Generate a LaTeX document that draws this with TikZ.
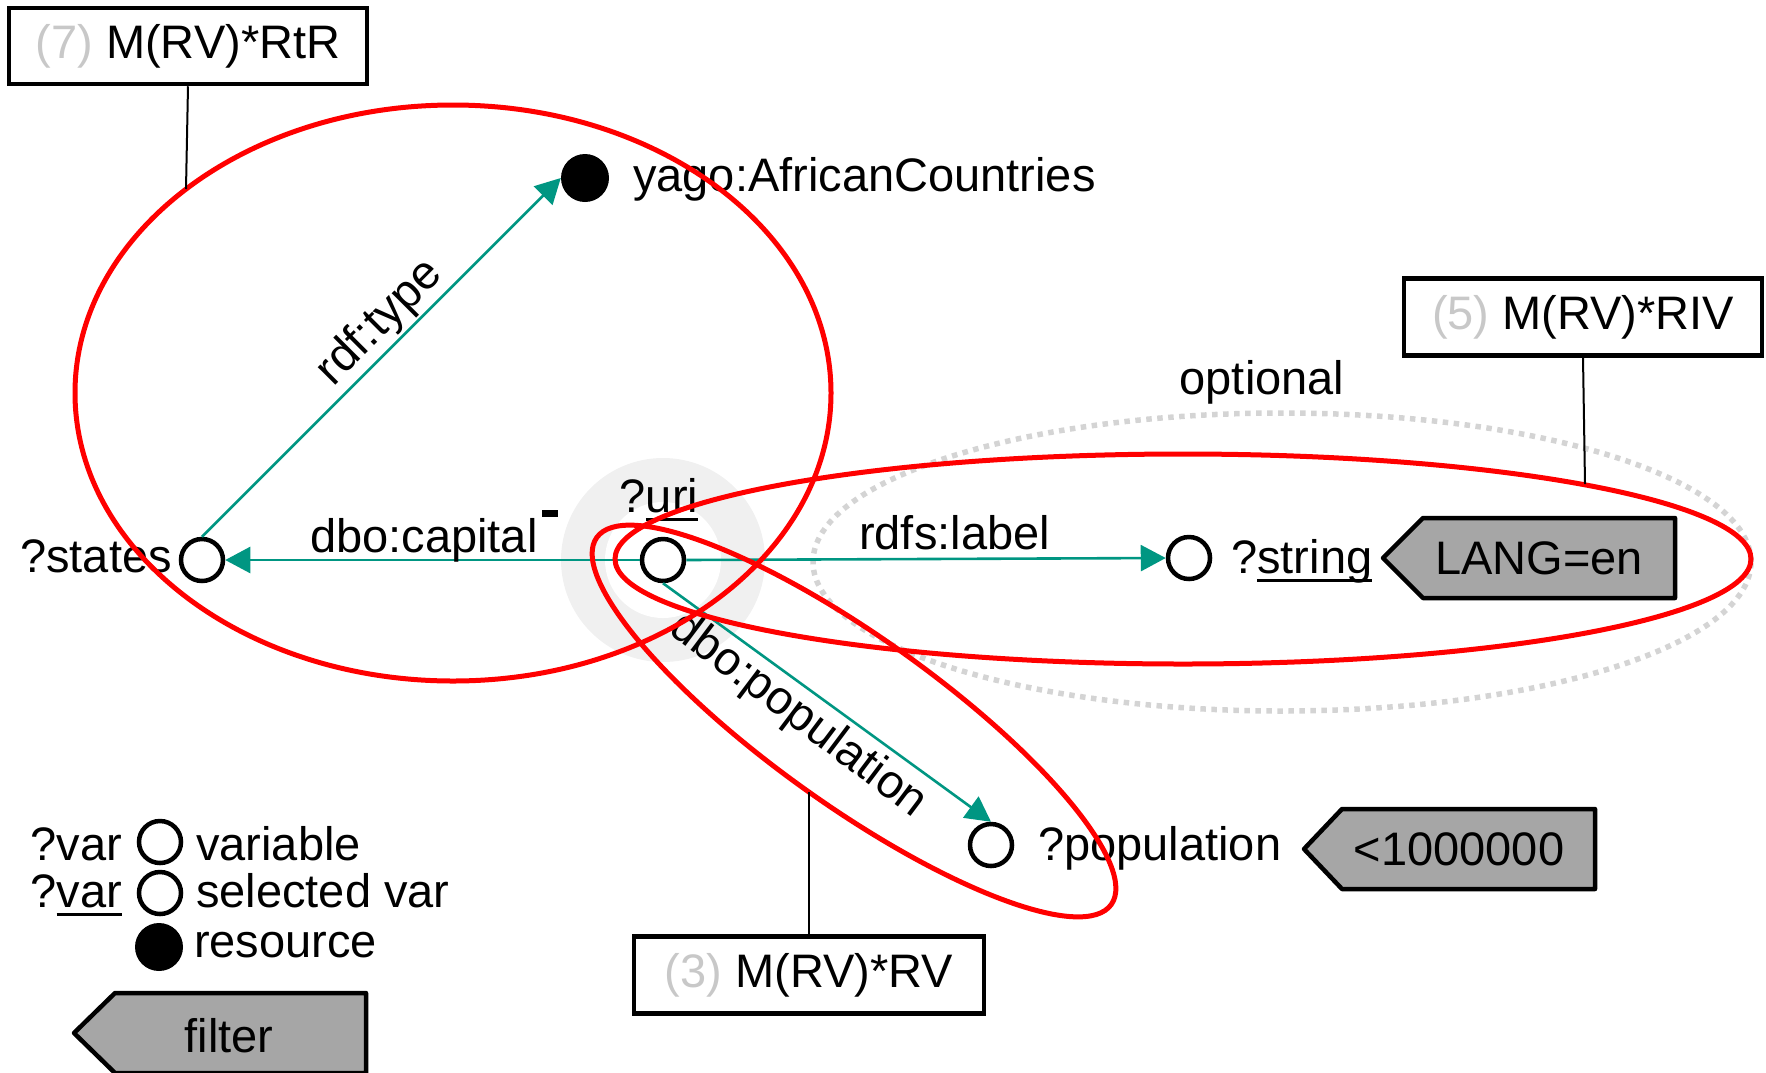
\documentclass[tikz,border=0pt]{standalone}
\usepackage{fontspec}
\setmainfont{Liberation Sans}
\usetikzlibrary{arrows.meta,backgrounds}
\definecolor{edgeteal}{HTML}{009682}
\definecolor{grpred}{HTML}{FF0000}
\definecolor{optgray}{HTML}{D4D4D4}
\definecolor{halogray}{HTML}{F0F0F0}
\definecolor{filtgray}{HTML}{A6A6A6}
\definecolor{numgray}{HTML}{C8C8C8}
% underlined word with a thick rule below the baseline
\newcommand\ulword[1]{\setbox0=\hbox{#1}\rlap{\copy0}\rule[-9pt]{\wd0}{3.5pt}}
\begin{document}
\begin{tikzpicture}[x=1pt,y=-1pt,
  txt/.style={font=\fontsize{47pt}{56pt}\selectfont, inner sep=0pt},
  varnode/.style={circle, draw=black, line width=4.5pt, minimum size=42pt, inner sep=0pt},
  resnode/.style={circle, fill=black, minimum size=48pt, inner sep=0pt},
  rel/.style={draw=edgeteal, line width=2.6pt, -{Triangle[length=25pt,width=26pt]}},
  group/.style={draw=grpred, line width=5pt},
  optional/.style={draw=optgray, line width=5.5pt, dash pattern=on 5.5pt off 5.5pt},
  tagbox/.style={draw=black, line width=4.5pt, fill=white, inner sep=0pt,
    font=\fontsize{47pt}{56pt}\selectfont},
  filt/.style={draw=black, line width=4.5pt, fill=filtgray, line join=round},
  callout/.style={draw=black, line width=2pt}
]
\useasboundingbox (0,0) rectangle (1766,1072);

% graph nodes
\node[varnode] (states) at (202,560) {};
\node[resnode] (yago) at (585,178) {};
\node[varnode] (uri) at (663,560) {};
\node[varnode] (string) at (1189,558) {};
\node[varnode] (pop) at (991,845) {};

% selection halo and optional group
\begin{scope}[on background layer]
  \fill[halogray] (uri) circle[radius=102pt];
  \fill[white] (uri) circle[radius=58pt];
  \draw[optional] (1282,562) ellipse [x radius=469pt, y radius=149pt];
\end{scope}

% node labels
\node[txt, anchor=base east] (statesL) at (172,572) {?states};
\node[txt, anchor=base west] (yagoL) at (633,191) {yago:AfricanCountries};
\node[txt, anchor=base] (uriL) at (659,512) {?\ulword{uri}};
\node[txt, anchor=base west] (stringL) at (1231,573) {?\ulword{string}};
\node[txt, anchor=base west] (popL) at (1038,860) {?population};
\node[txt, anchor=base] (optL) at (1262,394) {optional};

% relations
\draw[rel] (uri.west) -- (states.east);
\draw[rel] (states.north) -- (yago.west);
\draw[rel] (uri.east) -- (string.west);
\draw[rel] (uri.south) -- (pop.north);

% relation labels
\node[txt, anchor=base west] (capL) at (310,552)
  {dbo:capital\kern4pt\raisebox{35pt}{\rule{16pt}{7pt}}};
\node[txt, rotate=45] (typeL) at (380,323) {rdf:type};
\node[txt, anchor=base west] (labelL) at (859,549) {rdfs:label};
\node[txt, rotate=-37] (popRelL) at (798,716) {dbo:population};

% filters
\draw[filt] (1383,558) -- (1423,518) -- (1675,518) -- (1675,598) -- (1423,598) -- cycle;
\node[txt] (langF) at (1539,558) {LANG=en};
\draw[filt] (1304,849) -- (1342,809) -- (1595,809) -- (1595,889) -- (1342,889) -- cycle;
\node[txt] (popF) at (1459,849) {<1000000};

% pattern groups
\draw[group] (453,393) ellipse [x radius=378pt, y radius=288pt];
\draw[group] (1183,559) ellipse [x radius=568pt, y radius=105pt];
\draw[group, rotate around={-35.5:(854,721)}] (854,721) ellipse [x radius=316pt, y radius=84pt];

% pattern tags
\node[tagbox, minimum width=358pt, minimum height=76pt] (box7) at (188,46)
  {\textcolor{numgray}{(7)} M(RV)*RtR};
\node[tagbox, minimum width=358pt, minimum height=77pt] (box5) at (1583,317)
  {\textcolor{numgray}{(5)} M(RV)*RIV};
\node[tagbox, minimum width=350pt, minimum height=77pt] (box3) at (809,975)
  {\textcolor{numgray}{(3)} M(RV)*RV};
\coordinate (hit7) at (186,189);
\coordinate (hit5) at (1585,484);
\coordinate (hit3) at (809,792);
\draw[callout] (box7.south) -- (hit7);
\draw[callout] (box5.south) -- (hit5);
\draw[callout] (box3.north) -- (hit3);

% legend
\node[varnode] (lgVar) at (160,842) {};
\node[varnode] (lgSel) at (160,893) {};
\node[resnode] (lgRes) at (159,947) {};
\node[txt, anchor=base east] (lgVarL) at (122,860) {?var};
\node[txt, anchor=base west] (lgVarT) at (196,860) {variable};
\node[txt, anchor=base east] (lgSelL) at (122,907) {?\ulword{var}};
\node[txt, anchor=base west] (lgSelT) at (196,907) {selected var};
\node[txt, anchor=base west] (lgResT) at (194,957) {resource};
\draw[filt] (74,1033) -- (115,993) -- (366,993) -- (366,1073) -- (115,1073) -- cycle;
\node[txt] (lgFilt) at (229,1036) {filter};
\end{tikzpicture}
\end{document}
